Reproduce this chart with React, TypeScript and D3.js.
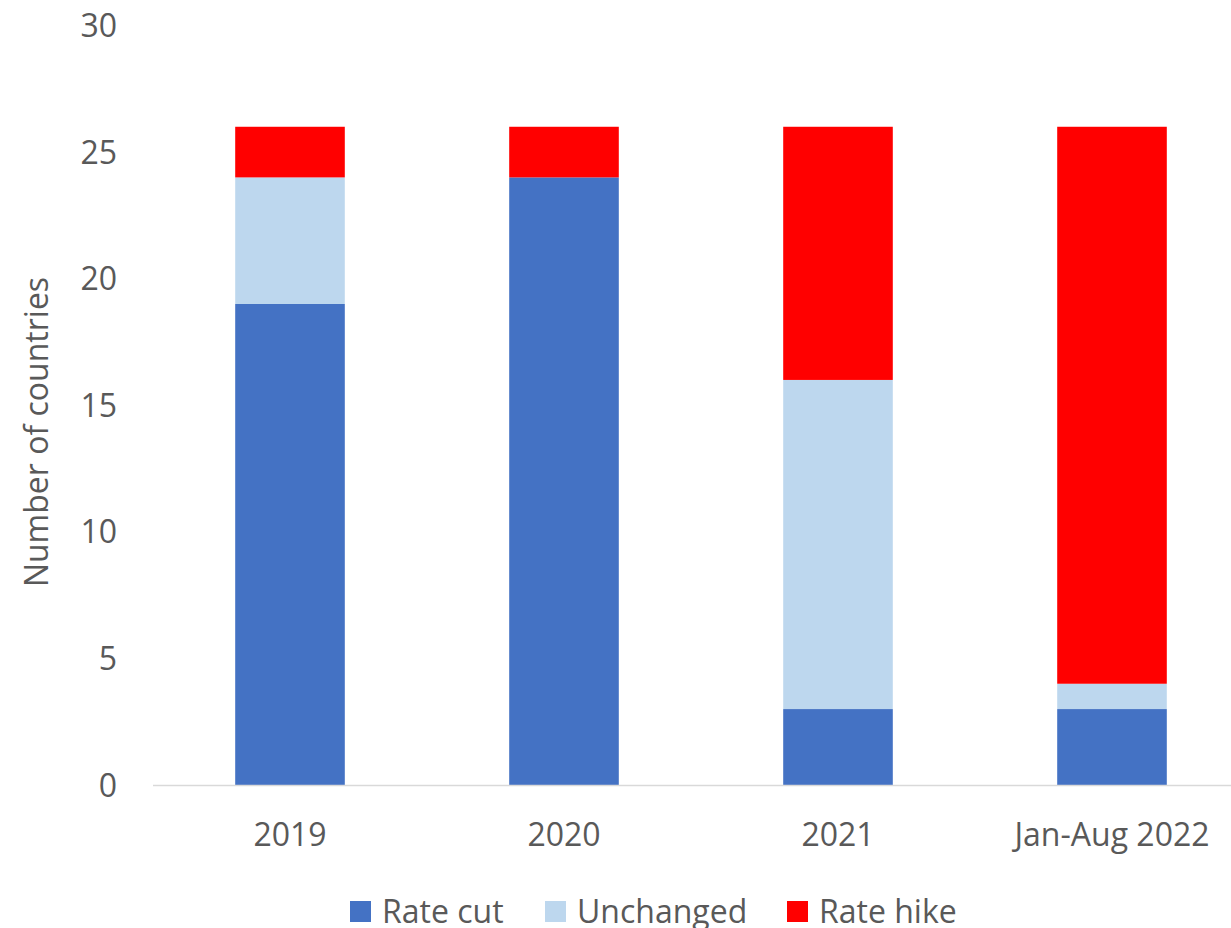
import React from "react";
import * as d3 from "d3";

const categories = ["2019", "2020", "2021", "Jan-Aug 2022"];
const rateCut = [19, 24, 3, 3];
const unchanged = [5, 0, 13, 1];
const rateHike = [2, 2, 10, 22];
const seriesNames = ["Rate cut", "Unchanged", "Rate hike"];
const seriesColors = ["#4472C4", "#BDD7EE", "#FF0000"];
const yTicks = [0, 5, 10, 15, 20, 25, 30];

const W = 1231;
const H = 928;
const FONT = "'Open Sans', 'Liberation Sans', sans-serif";
const TEXT = "#595959";
const FS = 32;

export default function App() {
  const x = d3.scaleBand<string>().domain(categories).range([153, 1249]).paddingInner(0.6).paddingOuter(0.3);
  const y = d3.scaleLinear().domain([0, 30]).range([785, 25.5]);

  const rows = categories.map((c, i) => ({ cat: c, s0: rateCut[i], s1: unchanged[i], s2: rateHike[i] }));
  const stack = d3.stack<any>().keys(["s0", "s1", "s2"])(rows);

  const legendX = [350, 545, 787];

  return (
    <svg width={W} height={H} style={{ position: "absolute", left: 0, top: 0, background: "#fff" }} fontFamily={FONT}>
      <rect x={0} y={0} width={W} height={H} fill="#fff" />
      {yTicks.map((t) => (
        <text key={t} x={117} y={y(t)} dy="0.36em" textAnchor="end" fontSize={FS} fill={TEXT}>
          {t}
        </text>
      ))}
      {stack.map((layer, si) =>
        layer.map((d, i) => (
          <rect
            key={si + "-" + i}
            x={x(categories[i])}
            width={x.bandwidth()}
            y={y(d[1])}
            height={Math.max(0, y(d[0]) - y(d[1]))}
            fill={seriesColors[si]}
          />
        ))
      )}
      <line x1={153} x2={W} y1={785.5} y2={785.5} stroke="#D9D9D9" strokeWidth={1.5} />
      {categories.map((c) => (
        <text key={c} x={(x(c) as number) + x.bandwidth() / 2} y={846} textAnchor="middle" fontSize={FS} fill={TEXT}>
          {c}
        </text>
      ))}
      <text transform={`translate(48,432) rotate(-90)`} textAnchor="middle" fontSize={FS} fill={TEXT}>
        Number of countries
      </text>
      {seriesNames.map((n, i) => (
        <g key={n}>
          <rect x={legendX[i]} y={901} width={21} height={21} fill={seriesColors[i]} />
          <text x={legendX[i] + 32} y={923} fontSize={FS} fill={TEXT}>
            {n}
          </text>
        </g>
      ))}
    </svg>
  );
}
